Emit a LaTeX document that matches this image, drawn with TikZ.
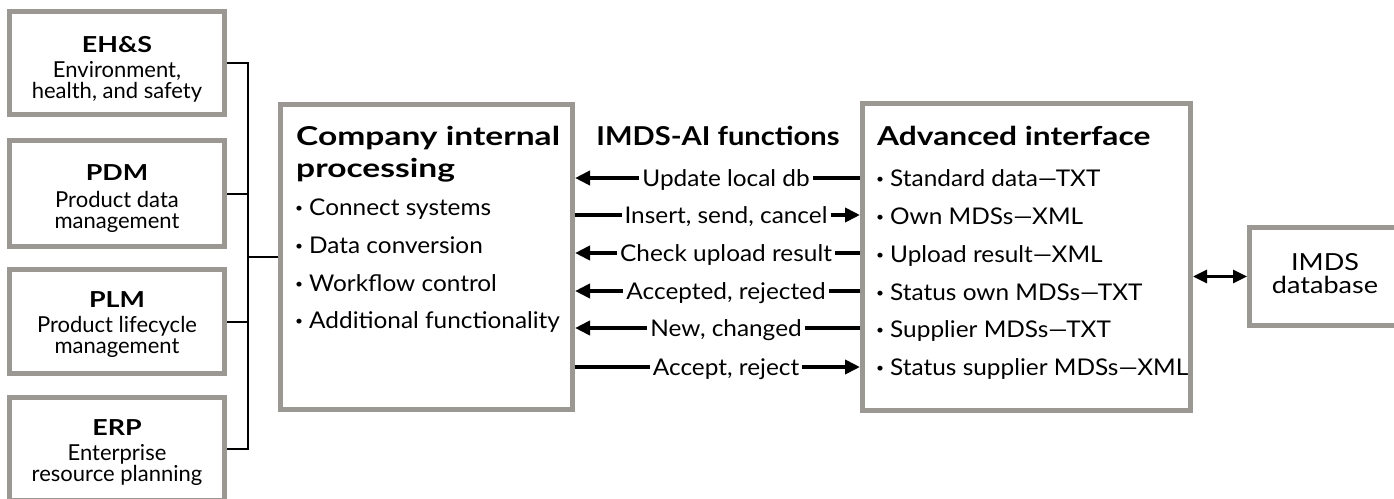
\documentclass[tikz,border=0pt]{standalone}
\usepackage{fontspec}
\setmainfont{Lato}
\newfontfamily\bodyf{Lato}[FakeStretch=1.06]
\newfontfamily\leftf{Lato}[FakeStretch=1.0]
\newfontfamily\dbf{Lato}[FakeStretch=1.15]
\newfontfamily\ttlf{Lato}[FakeStretch=1.22]
\newfontfamily\ttlnarrow{Lato}[FakeStretch=1.12]
\newfontfamily\ttlwide{Lato}[FakeStretch=1.29]
\usetikzlibrary{arrows.meta}
\definecolor{boxgray}{RGB}{155,151,147}
\newcommand\bul{\raisebox{2.5pt}{\fontsize{13}{13}\selectfont\textbullet}\hspace{6pt}}
\tikzset{
  gbox/.style={draw=boxgray, line width=5pt, fill=white, inner sep=0pt},
  ttl/.style={font=\ttlf\fontsize{26}{30}\selectfont\bfseries, inner sep=0pt},
  body/.style={font=\bodyf\fontsize{23}{26}\selectfont, inner sep=0pt},
  sttl/.style={font=\ttlf\fontsize{22}{26}\selectfont\bfseries, inner sep=0pt},
  sbody/.style={font=\leftf\fontsize{22}{26}\selectfont, inner sep=0pt},
  dbody/.style={font=\dbf\fontsize{23.5}{26}\selectfont, inner sep=0pt},
  bus/.style={draw=black, line width=2pt},
  flow/.style={draw=black, line width=4pt},
  tipR/.style={-{Triangle[length=15pt,width=14pt]}},
  tipL/.style={{Triangle[length=15pt,width=14pt]}-},
  flabel/.style={fill=white, font=\bodyf\fontsize{23}{26}\selectfont, text height=16pt, text depth=0pt, inner xsep=3pt, inner ysep=3pt, pos=0.53},
}
\begin{document}
\begin{tikzpicture}[x=1pt,y=-1pt]
\useasboundingbox (0,0) rectangle (1394,498);
\clip (0,0) rectangle (1394,498);
% left boxes
\node[gbox, minimum width=215, minimum height=103] (ehs) at (117,63) {};
\node[gbox, minimum width=215, minimum height=106] (pdm) at (117,193.5) {};
\node[gbox, minimum width=215, minimum height=104] (plm) at (117,321.5) {};
\node[gbox, minimum width=215, minimum height=103] (erp) at (117,449) {};
\node[sttl, anchor=base] (ehsT) at (117,52) {EH\&S};
\node[sbody, anchor=base] (ehsA) at (117,77) {Environment,};
\node[sbody, anchor=base] (ehsB) at (117,98) {health, and safety};
\node[sttl, anchor=base] (pdmT) at (117,180) {PDM};
\node[sbody, anchor=base] (pdmA) at (117,207) {Product data};
\node[sbody, anchor=base] (pdmB) at (117,228) {management};
\node[sttl, anchor=base] (plmT) at (117,307) {PLM};
\node[sbody, anchor=base] (plmA) at (117,332) {Product lifecycle};
\node[sbody, anchor=base] (plmB) at (117,353) {management};
\node[sttl, anchor=base] (erpT) at (117,435) {ERP};
\node[sbody, anchor=base] (erpA) at (117,460) {Enterprise};
\node[sbody, anchor=base] (erpB) at (117,481) {resource planning};
% central boxes
\node[gbox, minimum width=292, minimum height=305] (cip) at (426.5,257) {};
\node[gbox, minimum width=328, minimum height=307] (adv) at (1026.5,257) {};
\node[gbox, minimum width=180, minimum height=98] (imds) at (1339.5,276.5) {};
% bus
\coordinate (jn) at (248,257);
\draw[bus] (ehs.east) -| (jn);
\draw[bus] (erp.east) -| (jn);
\draw[bus] (pdm.east) -- (pdm.east -| jn);
\draw[bus] (plm.east) -- (plm.east -| jn);
\draw[bus] (jn) -- (cip.west);
% company internal text
\node[ttl, font=\ttlwide\fontsize{26}{30}\selectfont\bfseries, anchor=base west] (cipT1) at (296,145) {Company internal};
\node[ttl, font=\ttlwide\fontsize{26}{30}\selectfont\bfseries, anchor=base west] (cipT2) at (296,177) {processing};
\node[body, anchor=base west] (cip1) at (295,215) {\bul Connect systems};
\node[body, anchor=base west] (cip2) at (295,253) {\bul Data conversion};
\node[body, anchor=base west] (cip3) at (295,291) {\bul Workflow control};
\node[body, anchor=base west] (cip4) at (295,328) {\bul Additional functionality};
% IMDS-AI functions
\node[ttl, font=\ttlnarrow\fontsize{26}{30}\selectfont\bfseries, anchor=base] (fnT) at (718,145) {IMDS-AI functions};
% advanced interface text
\node[ttl, anchor=base west] (advT) at (877,145) {Advanced interface};
\node[body, anchor=base west] (adv1) at (876,186) {\bul Standard data—TXT};
\node[body, anchor=base west] (adv2) at (876,224) {\bul Own MDSs—XML};
\node[body, anchor=base west] (adv3) at (876,262) {\bul Upload result—XML};
\node[body, anchor=base west] (adv4) at (876,300) {\bul Status own MDSs—TXT};
\node[body, anchor=base west] (adv5) at (876,337) {\bul Supplier MDSs—TXT};
\node[body, anchor=base west] (adv6) at (876,375) {\bul Status supplier MDSs—XML};
% IMDS database text
\node[dbody, anchor=base] (imdsA) at (1325,270) {IMDS};
\node[dbody, anchor=base] (imdsB) at (1325,293) {database};
% flows
\draw[flow, tipL] (cip.east |- 0,178) -- (adv.west |- 0,178) node[flabel] {Update local db};
\draw[flow, tipR] (cip.east |- 0,215) -- (adv.west |- 0,215) node[flabel] {Insert, send, cancel};
\draw[flow, tipL] (cip.east |- 0,253) -- (adv.west |- 0,253) node[flabel] {Check upload result};
\draw[flow, tipL] (cip.east |- 0,291) -- (adv.west |- 0,291) node[flabel] {Accepted, rejected};
\draw[flow, tipL] (cip.east |- 0,328) -- (adv.west |- 0,328) node[flabel] {New, changed};
\draw[flow, tipR] (cip.east |- 0,367) -- (adv.west |- 0,367) node[flabel] {Accept, reject};
\draw[line width=3pt, {Triangle[length=14pt,width=13pt]}-{Triangle[length=14pt,width=13pt]}] (adv.east |- imds.west) -- (imds.west);
\end{tikzpicture}
\end{document}
